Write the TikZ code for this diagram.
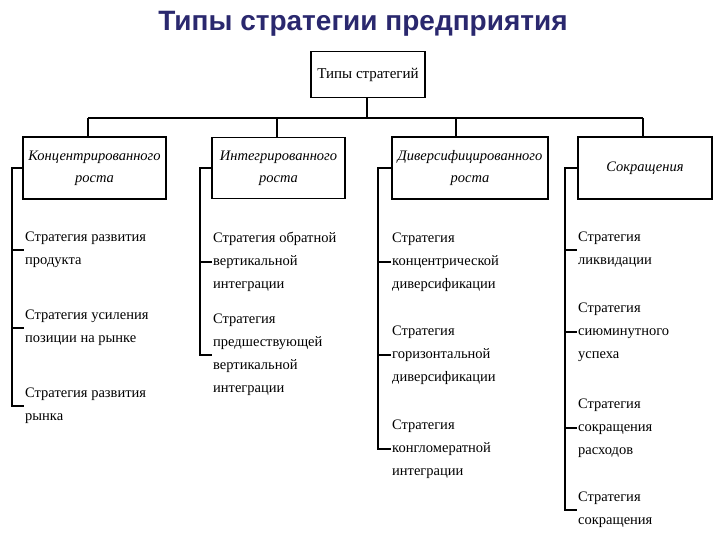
\documentclass[tikz,border=0pt]{standalone}
\usepackage{fontspec}
\setmainfont{Liberation Serif}
\newfontfamily\headfont{Liberation Sans}
\definecolor{titleblue}{RGB}{42,40,110}

\begin{document}
\begin{tikzpicture}[x=1pt,y=-1pt,
  kind/.style={draw,line width=1.6pt,fill=white,inner sep=2pt,align=center,font=\fontsize{14.5}{22}\selectfont\itshape},
  item/.style={anchor=west,align=left,inner sep=1pt,font=\fontsize{14.5}{23}\selectfont},
  link/.style={line width=1.3pt}]
\useasboundingbox (0,0) rectangle (720,540);
\node [font=\headfont\bfseries\fontsize{28}{30}\selectfont,text=titleblue] (title) at (363,24) {Типы стратегии предприятия};
\node [kind,font=\fontsize{15}{22}\selectfont,minimum width=114pt,minimum height=46pt] (types) at (368,74.5) {Типы стратегий};
\node [kind,minimum width=143pt,minimum height=62pt] (k1) at (94.5,168) {Концентрированного\\роста};
\node [kind,minimum width=133pt,minimum height=61pt] (k2) at (278.5,168) {Интегрированного\\роста};
\node [kind,minimum width=156pt,minimum height=62pt] (k3) at (470,168) {Диверсифицированного\\роста};
\node [kind,minimum width=134pt,minimum height=62pt] (k4) at (645,168) {Сокращения};
\coordinate (b1) at (88,118); \coordinate (b2) at (277,118); \coordinate (b3) at (456,118); \coordinate (b4) at (643,118);
\draw [link] (types.south -| 367,0) -- (367,118); \draw [link] (b1) -- (b4);
\draw [link] (b1) -- (b1 |- k1.north); \draw [link] (b2) -- (b2 |- k2.north);
\draw [link] (b3) -- (b3 |- k3.north); \draw [link] (b4) -- (b4 |- k4.north);
\node [item] (s11) at (24,250) {Стратегия развития\\продукта};
\node [item] (s12) at (24,328) {Стратегия усиления\\позиции на рынке};
\node [item] (s13) at (24,406) {Стратегия развития\\рынка};
\node [item] (s21) at (212,262) {Стратегия обратной\\вертикальной\\интеграции};
\node [item] (s22) at (212,355) {Стратегия\\предшествующей\\вертикальной\\интеграции};
\node [item] (s31) at (391,262) {Стратегия\\концентрической\\диверсификации};
\node [item] (s32) at (391,355) {Стратегия\\горизонтальной\\диверсификации};
\node [item] (s33) at (391,449) {Стратегия\\конгломератной\\интеграции};
\node [item] (s41) at (577,250) {Стратегия\\ликвидации};
\node [item] (s42) at (577,332) {Стратегия\\сиюминутного\\успеха};
\node [item] (s43) at (577,428) {Стратегия\\сокращения\\расходов};
\node [item] (s44) at (577,510) {Стратегия\\сокращения};
\draw [link] (k1.west) -- (12,168) |- (s13.west); \draw [link] (12,0 |- s11.west) -- (s11.west); \draw [link] (12,0 |- s12.west) -- (s12.west);
\draw [link] (k2.west) -- (200,168) |- (s22.west); \draw [link] (200,0 |- s21.west) -- (s21.west);
\draw [link] (k3.west) -- (378,168) |- (s33.west); \draw [link] (378,0 |- s31.west) -- (s31.west); \draw [link] (378,0 |- s32.west) -- (s32.west);
\draw [link] (k4.west) -- (565,168) |- (s44.west); \draw [link] (565,0 |- s41.west) -- (s41.west); \draw [link] (565,0 |- s42.west) -- (s42.west); \draw [link] (565,0 |- s43.west) -- (s43.west);
\end{tikzpicture}
\end{document}
